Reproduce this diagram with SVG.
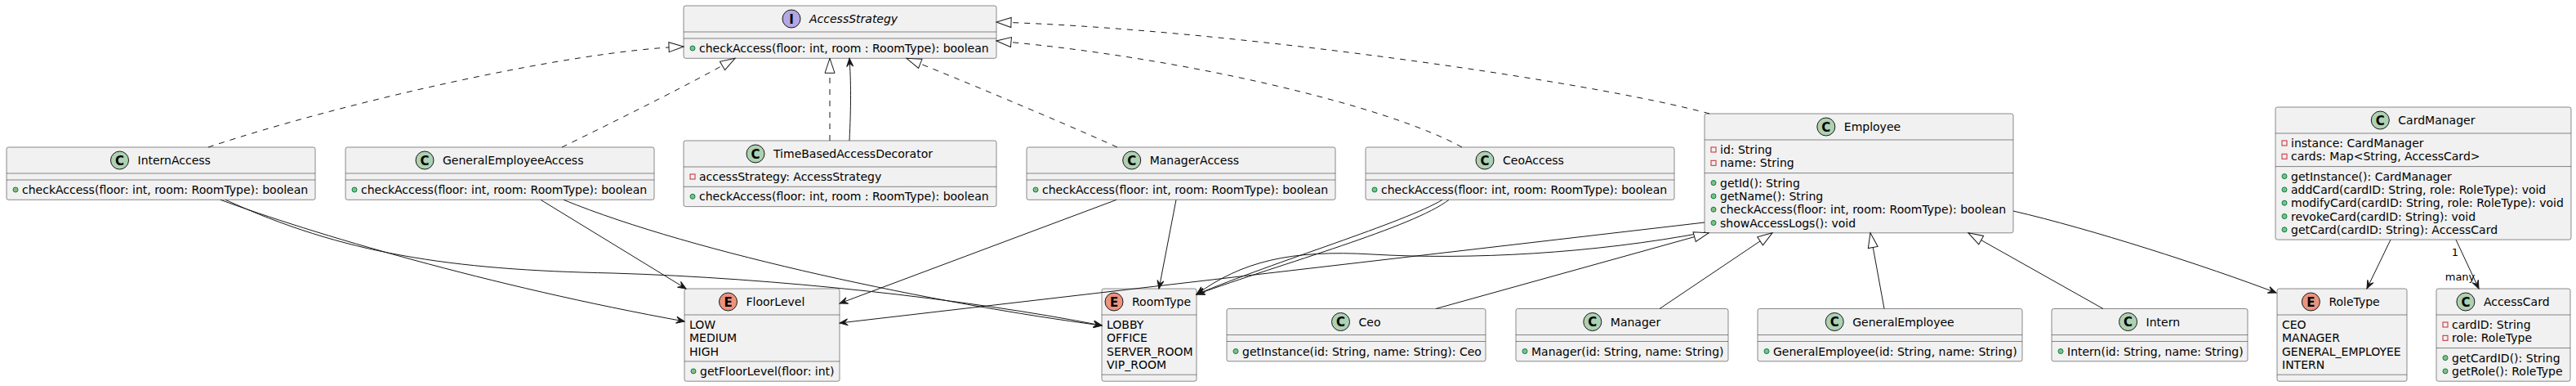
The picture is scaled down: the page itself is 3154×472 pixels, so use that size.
<svg xmlns="http://www.w3.org/2000/svg" width="3154" height="472" viewBox="0 0 3154 472">
<style>
.box{fill:#F1F1F1;stroke:#181818;stroke-width:0.5}
.sep{stroke:#181818;stroke-width:0.5}
.t{font-family:"DejaVu Sans",sans-serif;font-size:14px;fill:#000000}
.it{font-style:italic}
.priv{fill:none;stroke:#C82930;stroke-width:1}
.pub{fill:#84BE84;stroke:#038048;stroke-width:1}
.cC{fill:#ADD1B2;stroke:#181818;stroke-width:1}
.cE{fill:#EB937F;stroke:#181818;stroke-width:1}
.cI{fill:#B4A7E5;stroke:#181818;stroke-width:1}
.g{font-family:"DejaVu Sans",sans-serif;font-weight:bold;font-size:15px;text-anchor:middle;fill:#000000}
.e{fill:none;stroke:#181818;stroke-width:1}
.d{stroke-dasharray:7,7}
.lbl{font-family:"DejaVu Sans",sans-serif;font-size:13px;fill:#000000;text-anchor:middle}
</style>
<defs>
<marker id="arr" markerUnits="userSpaceOnUse" markerWidth="12" markerHeight="10" refX="10" refY="4" orient="auto" overflow="visible"><path d="M10,4 L0,0 L4,4 L0,8 Z" fill="#181818" stroke="#181818" stroke-width="1"/></marker>
<marker id="tri" markerUnits="userSpaceOnUse" markerWidth="20" markerHeight="14" refX="18" refY="6" orient="auto" overflow="visible"><path d="M18,6 L0,0 L0,12 Z" fill="#FFFFFF" stroke="#181818" stroke-width="1" stroke-dasharray="none"/></marker>
</defs>

<g id="AccessStrategy">
<rect class="box" x="837" y="7" width="383" height="64.3" rx="2.5"/>
<circle class="cI" cx="969" cy="23" r="11"/><text class="g" x="969" y="28.5">I</text>
<text class="t it" x="991" y="28">AccessStrategy</text>
<line class="sep" x1="837" y1="39" x2="1220" y2="39"/>
<line class="sep" x1="837" y1="47" x2="1220" y2="47"/>
<circle class="pub" cx="848" cy="59" r="3"/><text class="t" x="856" y="64">checkAccess(floor: int, room : RoomType): boolean</text>
</g>

<g id="InternAccess">
<rect class="box" x="8" y="180" width="378" height="64.3" rx="2.5"/>
<circle class="cC" cx="146.5" cy="196" r="11"/><text class="g" x="146.5" y="201.5">C</text>
<text class="t" x="168.5" y="201">InternAccess</text>
<line class="sep" x1="8" y1="212" x2="386" y2="212"/>
<line class="sep" x1="8" y1="220" x2="386" y2="220"/>
<circle class="pub" cx="19" cy="232" r="3"/><text class="t" x="27" y="237">checkAccess(floor: int, room: RoomType): boolean</text>
</g>

<g id="GeneralEmployeeAccess">
<rect class="box" x="423" y="180" width="378" height="64.3" rx="2.5"/>
<circle class="cC" cx="520" cy="196" r="11"/><text class="g" x="520" y="201.5">C</text>
<text class="t" x="542" y="201">GeneralEmployeeAccess</text>
<line class="sep" x1="423" y1="212" x2="801" y2="212"/>
<line class="sep" x1="423" y1="220" x2="801" y2="220"/>
<circle class="pub" cx="434" cy="232" r="3"/><text class="t" x="442" y="237">checkAccess(floor: int, room: RoomType): boolean</text>
</g>

<g id="TimeBasedAccessDecorator">
<rect class="box" x="837" y="172" width="383" height="80.6" rx="2.5"/>
<circle class="cC" cx="925" cy="188" r="11"/><text class="g" x="925" y="193.5">C</text>
<text class="t" x="947" y="193">TimeBasedAccessDecorator</text>
<line class="sep" x1="837" y1="204" x2="1220" y2="204"/>
<rect class="priv" x="845" y="213" width="6" height="6"/><text class="t" x="856" y="221">accessStrategy: AccessStrategy</text>
<line class="sep" x1="837" y1="228.3" x2="1220" y2="228.3"/>
<circle class="pub" cx="848" cy="240.3" r="3"/><text class="t" x="856" y="245.3">checkAccess(floor: int, room : RoomType): boolean</text>
</g>

<g id="ManagerAccess">
<rect class="box" x="1257" y="180" width="378" height="64.3" rx="2.5"/>
<circle class="cC" cx="1385.7" cy="196" r="11"/><text class="g" x="1385.7" y="201.5">C</text>
<text class="t" x="1407.7" y="201">ManagerAccess</text>
<line class="sep" x1="1257" y1="212" x2="1635" y2="212"/>
<line class="sep" x1="1257" y1="220" x2="1635" y2="220"/>
<circle class="pub" cx="1268" cy="232" r="3"/><text class="t" x="1276" y="237">checkAccess(floor: int, room: RoomType): boolean</text>
</g>

<g id="CeoAccess">
<rect class="box" x="1672" y="180" width="378" height="64.3" rx="2.5"/>
<circle class="cC" cx="1818" cy="196" r="11"/><text class="g" x="1818" y="201.5">C</text>
<text class="t" x="1840" y="201">CeoAccess</text>
<line class="sep" x1="1672" y1="212" x2="2050" y2="212"/>
<line class="sep" x1="1672" y1="220" x2="2050" y2="220"/>
<circle class="pub" cx="1683" cy="232" r="3"/><text class="t" x="1691" y="237">checkAccess(floor: int, room: RoomType): boolean</text>
</g>

<g id="Employee">
<rect class="box" x="2087" y="139" width="378" height="145.8" rx="2.5"/>
<circle class="cC" cx="2235.8" cy="155" r="11"/><text class="g" x="2235.8" y="160.5">C</text>
<text class="t" x="2257.8" y="160">Employee</text>
<line class="sep" x1="2087" y1="171" x2="2465" y2="171"/>
<rect class="priv" x="2095" y="180" width="6" height="6"/><text class="t" x="2106" y="188">id: String</text>
<rect class="priv" x="2095" y="196.3" width="6" height="6"/><text class="t" x="2106" y="204.3">name: String</text>
<line class="sep" x1="2087" y1="211.6" x2="2465" y2="211.6"/>
<circle class="pub" cx="2098" cy="223.6" r="3"/><text class="t" x="2106" y="228.6">getId(): String</text>
<circle class="pub" cx="2098" cy="239.9" r="3"/><text class="t" x="2106" y="244.9">getName(): String</text>
<circle class="pub" cx="2098" cy="256.2" r="3"/><text class="t" x="2106" y="261.2">checkAccess(floor: int, room: RoomType): boolean</text>
<circle class="pub" cx="2098" cy="272.5" r="3"/><text class="t" x="2106" y="277.5">showAccessLogs(): void</text>
</g>

<g id="CardManager">
<rect class="box" x="2786" y="131" width="362" height="162.1" rx="2.5"/>
<circle class="cC" cx="2914.3" cy="147" r="11"/><text class="g" x="2914.3" y="152.5">C</text>
<text class="t" x="2936.3" y="152">CardManager</text>
<line class="sep" x1="2786" y1="163" x2="3148" y2="163"/>
<rect class="priv" x="2794" y="172" width="6" height="6"/><text class="t" x="2805" y="180">instance: CardManager</text>
<rect class="priv" x="2794" y="188.3" width="6" height="6"/><text class="t" x="2805" y="196.3">cards: Map&lt;String, AccessCard&gt;</text>
<line class="sep" x1="2786" y1="203.6" x2="3148" y2="203.6"/>
<circle class="pub" cx="2797" cy="215.6" r="3"/><text class="t" x="2805" y="220.6">getInstance(): CardManager</text>
<circle class="pub" cx="2797" cy="231.9" r="3"/><text class="t" x="2805" y="236.9">addCard(cardID: String, role: RoleType): void</text>
<circle class="pub" cx="2797" cy="248.2" r="3"/><text class="t" x="2805" y="253.2">modifyCard(cardID: String, role: RoleType): void</text>
<circle class="pub" cx="2797" cy="264.5" r="3"/><text class="t" x="2805" y="269.5">revokeCard(cardID: String): void</text>
<circle class="pub" cx="2797" cy="280.8" r="3"/><text class="t" x="2805" y="285.8">getCard(cardID: String): AccessCard</text>
</g>

<g id="FloorLevel">
<rect class="box" x="838" y="353" width="190" height="113.2" rx="2.5"/>
<circle class="cE" cx="891.5" cy="369" r="11"/><text class="g" x="891.5" y="374.5">E</text>
<text class="t" x="913.5" y="374">FloorLevel</text>
<line class="sep" x1="838" y1="385" x2="1028" y2="385"/>
<text class="t" x="844" y="402">LOW</text>
<text class="t" x="844" y="418.3">MEDIUM</text>
<text class="t" x="844" y="434.6">HIGH</text>
<line class="sep" x1="838" y1="441.9" x2="1028" y2="441.9"/>
<circle class="pub" cx="849" cy="453.9" r="3"/><text class="t" x="857" y="458.9">getFloorLevel(floor: int)</text>
</g>

<g id="RoomType">
<rect class="box" x="1349" y="353" width="116" height="113.2" rx="2.5"/>
<circle class="cE" cx="1364" cy="369" r="11"/><text class="g" x="1364" y="374.5">E</text>
<text class="t" x="1386" y="374">RoomType</text>
<line class="sep" x1="1349" y1="385" x2="1465" y2="385"/>
<text class="t" x="1355" y="402">LOBBY</text>
<text class="t" x="1355" y="418.3">OFFICE</text>
<text class="t" x="1355" y="434.6">SERVER_ROOM</text>
<text class="t" x="1355" y="450.9">VIP_ROOM</text>
<line class="sep" x1="1349" y1="458.2" x2="1465" y2="458.2"/>
</g>

<g id="Ceo">
<rect class="box" x="1502" y="377.5" width="317" height="64.3" rx="2.5"/>
<circle class="cC" cx="1641.5" cy="393.5" r="11"/><text class="g" x="1641.5" y="399">C</text>
<text class="t" x="1663.5" y="398.5">Ceo</text>
<line class="sep" x1="1502" y1="409.5" x2="1819" y2="409.5"/>
<line class="sep" x1="1502" y1="417.5" x2="1819" y2="417.5"/>
<circle class="pub" cx="1513" cy="429.5" r="3"/><text class="t" x="1521" y="434.5">getInstance(id: String, name: String): Ceo</text>
</g>

<g id="Manager">
<rect class="box" x="1856" y="377.5" width="260" height="64.3" rx="2.5"/>
<circle class="cC" cx="1949.8" cy="393.5" r="11"/><text class="g" x="1949.8" y="399">C</text>
<text class="t" x="1971.8" y="398.5">Manager</text>
<line class="sep" x1="1856" y1="409.5" x2="2116" y2="409.5"/>
<line class="sep" x1="1856" y1="417.5" x2="2116" y2="417.5"/>
<circle class="pub" cx="1867" cy="429.5" r="3"/><text class="t" x="1875" y="434.5">Manager(id: String, name: String)</text>
</g>

<g id="GeneralEmployee">
<rect class="box" x="2152" y="377.5" width="324" height="64.3" rx="2.5"/>
<circle class="cC" cx="2246.2" cy="393.5" r="11"/><text class="g" x="2246.2" y="399">C</text>
<text class="t" x="2268.2" y="398.5">GeneralEmployee</text>
<line class="sep" x1="2152" y1="409.5" x2="2476" y2="409.5"/>
<line class="sep" x1="2152" y1="417.5" x2="2476" y2="417.5"/>
<circle class="pub" cx="2163" cy="429.5" r="3"/><text class="t" x="2171" y="434.5">GeneralEmployee(id: String, name: String)</text>
</g>

<g id="Intern">
<rect class="box" x="2512" y="377.5" width="240" height="64.3" rx="2.5"/>
<circle class="cC" cx="2605.6" cy="393.5" r="11"/><text class="g" x="2605.6" y="399">C</text>
<text class="t" x="2627.6" y="398.5">Intern</text>
<line class="sep" x1="2512" y1="409.5" x2="2752" y2="409.5"/>
<line class="sep" x1="2512" y1="417.5" x2="2752" y2="417.5"/>
<circle class="pub" cx="2523" cy="429.5" r="3"/><text class="t" x="2531" y="434.5">Intern(id: String, name: String)</text>
</g>

<g id="RoleType">
<rect class="box" x="2788" y="353" width="159" height="113.2" rx="2.5"/>
<circle class="cE" cx="2829.4" cy="369" r="11"/><text class="g" x="2829.4" y="374.5">E</text>
<text class="t" x="2851.4" y="374">RoleType</text>
<line class="sep" x1="2788" y1="385" x2="2947" y2="385"/>
<text class="t" x="2794" y="402">CEO</text>
<text class="t" x="2794" y="418.3">MANAGER</text>
<text class="t" x="2794" y="434.6">GENERAL_EMPLOYEE</text>
<text class="t" x="2794" y="450.9">INTERN</text>
<line class="sep" x1="2788" y1="458.2" x2="2947" y2="458.2"/>
</g>

<g id="AccessCard">
<rect class="box" x="2983" y="353" width="164" height="113.2" rx="2.5"/>
<circle class="cC" cx="3018.9" cy="369" r="11"/><text class="g" x="3018.9" y="374.5">C</text>
<text class="t" x="3040.9" y="374">AccessCard</text>
<line class="sep" x1="2983" y1="385" x2="3147" y2="385"/>
<rect class="priv" x="2991" y="394" width="6" height="6"/><text class="t" x="3002" y="402">cardID: String</text>
<rect class="priv" x="2991" y="410.3" width="6" height="6"/><text class="t" x="3002" y="418.3">role: RoleType</text>
<line class="sep" x1="2983" y1="425.6" x2="3147" y2="425.6"/>
<circle class="pub" cx="2994" cy="437.6" r="3"/><text class="t" x="3002" y="442.6">getCardID(): String</text>
<circle class="pub" cx="2994" cy="453.9" r="3"/><text class="t" x="3002" y="458.9">getRole(): RoleType</text>
</g>

<g id="connectors">
<path class="e d" marker-end="url(#tri)" d="M255,180 C420,125 700,62 837,57"/>
<path class="e d" marker-end="url(#tri)" d="M688,180 C760,145 860,95 900,71.3"/>
<path class="e d" marker-end="url(#tri)" d="M1016,172 L1016,71.3"/>
<path class="e" marker-end="url(#arr)" d="M1040,172 C1042,130 1042,100 1040,71.3"/>
<path class="e d" marker-end="url(#tri)" d="M1368,180 C1290,145 1170,95 1110,71.3"/>
<path class="e d" marker-end="url(#tri)" d="M1790,180 C1700,130 1450,70 1220,50"/>
<path class="e d" marker-end="url(#tri)" d="M2093,139 C1950,100 1500,35 1220,27"/>
<path class="e" marker-end="url(#arr)" d="M270,244.3 C380,285 600,350 838,393"/>
<path class="e" marker-end="url(#arr)" d="M276,244.3 C420,310 550,330 750,334 C950,340 1180,365 1349,398"/>
<path class="e" marker-end="url(#arr)" d="M662,244.3 L840,353"/>
<path class="e" marker-end="url(#arr)" d="M690,244.3 C850,310 1150,372 1349,398"/>
<path class="e" marker-end="url(#arr)" d="M1367,244.3 L1028,371"/>
<path class="e" marker-end="url(#arr)" d="M1440,244.3 L1419,353"/>
<path class="e" marker-end="url(#arr)" d="M1766,244.3 C1720,272 1560,320 1465,360"/>
<path class="e" marker-end="url(#arr)" d="M1774,244.3 C1730,278 1570,322 1465,360"/>
<path class="e" marker-end="url(#arr)" d="M2087,272 L1028,395"/>
<path class="e" marker-end="url(#arr)" d="M2088,284 C1950,310 1800,318 1680,311 C1580,305 1520,320 1465,360"/>
<path class="e" marker-end="url(#arr)" d="M2465,258 C2560,280 2700,325 2787,358"/>
<path class="e" marker-end="url(#arr)" d="M2927,293.1 L2898,353"/>
<path class="e" marker-end="url(#arr)" d="M3007,293.1 L3035,353"/>
<path class="e" marker-end="url(#tri)" d="M1758,377.5 L2092,284.8"/>
<path class="e" marker-end="url(#tri)" d="M2032,377.5 L2170,284.8"/>
<path class="e" marker-end="url(#tri)" d="M2307,377.5 L2290,284.8"/>
<path class="e" marker-end="url(#tri)" d="M2575,377.5 L2410,284.8"/>
<text class="lbl" x="3006" y="313">1</text>
<text class="lbl" x="3012" y="343">many</text>
</g>
</svg>
